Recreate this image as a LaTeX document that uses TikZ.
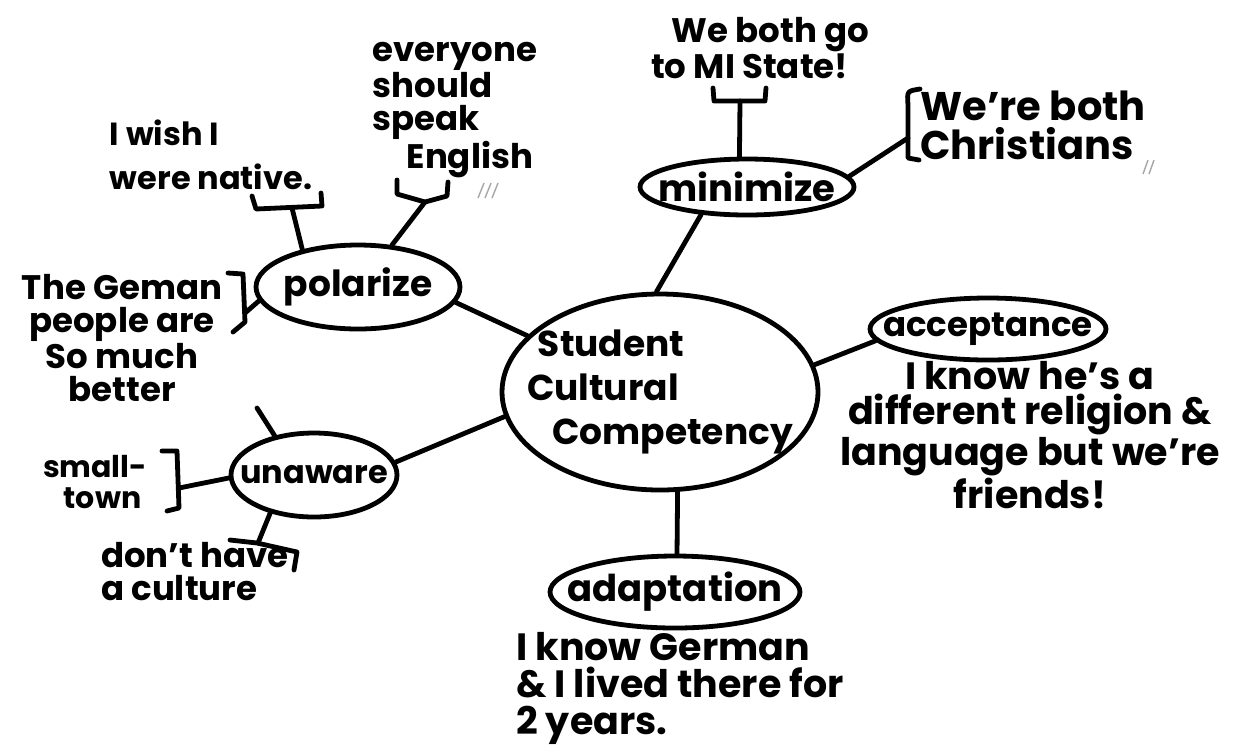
\documentclass[tikz,border=0pt]{standalone}
\usepackage{fontspec}
\setmainfont{Poppins}
\usetikzlibrary{shapes.geometric}

\begin{document}
\begin{tikzpicture}[
    x=0.5pt, y=-0.5pt,
    bubble/.style={draw, ellipse, line width=2.4pt, inner xsep=-8pt, inner ysep=-3pt, font=\fontsize{18}{19}\selectfont\bfseries},
    note/.style={inner sep=0pt, font=\fontsize{17}{16.5}\selectfont\bfseries},
    link/.style={line width=2.4pt, line cap=round, line join=round},
    scratch/.style={line width=0.7pt, gray!70}
]
\useasboundingbox (0,0) rectangle (1236,746);

% bubbles
\node[bubble, minimum width=158pt, minimum height=98pt, inner xsep=-12pt, align=left, font=\fontsize{18}{22}\selectfont\bfseries] (hub) at (660,392) {\hspace*{0.3em}Student\\Cultural\\\hspace*{0.7em}Competency};
\node[bubble, minimum width=107pt, minimum height=28pt, inner xsep=-10pt, font=\fontsize{18.5}{20}\selectfont\bfseries] (minimize) at (747,187) {minimize};
\node[bubble, minimum width=118pt, minimum height=31pt, inner xsep=-11pt, font=\fontsize{17}{18}\selectfont\bfseries] (acceptance) at (988,329) {acceptance};
\node[bubble, minimum width=125pt, minimum height=36pt, inner xsep=-13.5pt, font=\fontsize{18.5}{20}\selectfont\bfseries] (adaptation) at (675,592) {adaptation};
\node[bubble, minimum width=102pt, minimum height=42pt] (polarize) at (358,287) {polarize};
\node[bubble, minimum width=83pt, minimum height=42pt, font=\fontsize{16}{17}\selectfont\bfseries] (unaware) at (314,475) {unaware};

\draw[link] (hub.92) -- (minimize.211);
\draw[link] (hub.10) -- (acceptance.186);
\draw[link] (hub.280) -- (adaptation.87);
\draw[link] (hub.157) -- (polarize.-9);
\draw[link] (hub.189) -- (unaware.9);

% notes
\node[note, align=left, font=\fontsize{16}{22}\selectfont\bfseries] (wish) at (211,155) {I wish I\\were native.};
\node[note, align=left] (english) at (455,110) {everyone\\should\\speak\\\hspace*{1em}English};
\node[note, align=center] (german) at (122,338) {The Geman\\people are\\So much\\better};
\node[note, align=center, font=\fontsize{15}{15.5}\selectfont\bfseries] (smalltown) at (95,482) {small-\\\hspace*{0.5em}town};
\node[note, align=left] (culture) at (195,572) {don't have\\a culture};
\node[note, align=left] (mistate) at (760,48) {\hspace*{0.6em}We both go\\to MI State!};
\node[note, align=left, font=\fontsize{20}{19.5}\selectfont\bfseries] (christians) at (1033,125) {We're both\\Christians};
\node[note, align=center, font=\fontsize{19}{17.5}\selectfont\bfseries] (religion) at (1030,435) {I know he's a\\different religion \&\\language but we're\\friends!};
\node[note, align=left, font=\fontsize{19}{18.5}\selectfont\bfseries] (knowgerman) at (680,688) {I know German\\\& I lived there for\\2 years.};

% brackets and ties
\coordinate (wishtie) at (292,208);
\coordinate (engtie) at (425,202);
\coordinate (gertie) at (245,313);
\coordinate (smalltie) at (179,488);
\coordinate (culttie) at (258,543);
\coordinate (stub) at (257,408);
\coordinate (mitie) at (740,101);
\coordinate (christie) at (908,138);

\draw[link] (252,196) -- (256,209) -- (322,206) -- (321,193);
\draw[link] (397,180) -- (397,194) -- (425,202) -- (447,196) -- (448,182);
\draw[link] (228,273) -- (243,274) -- (245,322) -- (233,332);
\draw[link] (162,451) -- (177,451) -- (179,508) -- (167,511);
\draw[link] (230,540) -- (257,543) -- (297,552) -- (294,570);
\draw[link] (713,88) -- (714,101) -- (765,101) -- (766,88);
\draw[link] (920,89) .. controls (907,91) .. (908,105) -- (908,158) -- (919,160);

\draw[link] (wishtie) -- (polarize.146);
\draw[link] (engtie) -- (polarize.51);
\draw[link] (gertie) -- (polarize.188);
\draw[link] (smalltie) -- (unaware.182);
\draw[link] (culttie) -- (unaware.221);
\draw[link] (stub) -- (unaware.135);
\draw[link] (mitie) -- (minimize.104);
\draw[link] (christie) -- (minimize.6);

% stray marks
\foreach \i in {0,7,14} \draw[scratch] ({478+\i},198) -- ({484+\i},183);
\foreach \i in {0,6} \draw[scratch] ({1143+\i},174) -- ({1148+\i},160);
\end{tikzpicture}
\end{document}
